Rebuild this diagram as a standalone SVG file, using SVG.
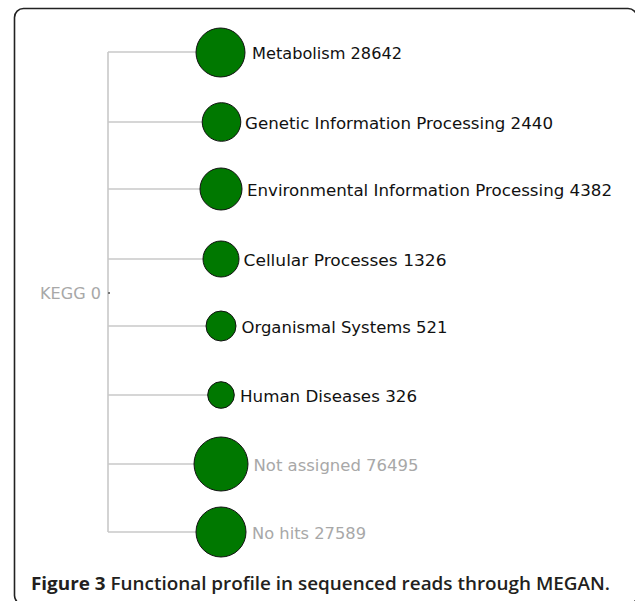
<svg xmlns="http://www.w3.org/2000/svg" width="635" height="601" viewBox="0 0 635 601">
<style>
.edge{stroke:#c8c8c8;stroke-width:1.6;fill:none}
.node circle{fill:#007800;stroke:#111;stroke-width:1}
.lbl{font-family:"DejaVu Sans",Verdana,sans-serif;font-size:15px;fill:#111}
.lbl.g{fill:#a8a8a8}
.cap{font-family:"Open Sans","Liberation Sans",sans-serif;font-size:17.5px;fill:#231f20}
</style>
<rect x="14.5" y="8.5" width="622.5" height="596" rx="9" fill="#fff" stroke="#222" stroke-width="1.6"/>
<g id="connectors">
<line class="edge" x1="108" y1="52" x2="108" y2="532"/>
<line class="edge" x1="108" y1="52" x2="197" y2="52"/>
<line class="edge" x1="108" y1="122" x2="202" y2="122"/>
<line class="edge" x1="108" y1="189" x2="200" y2="189"/>
<line class="edge" x1="108" y1="259" x2="203" y2="259"/>
<line class="edge" x1="108" y1="326" x2="206" y2="326"/>
<line class="edge" x1="108" y1="395" x2="208" y2="395"/>
<line class="edge" x1="108" y1="464" x2="194" y2="464"/>
<line class="edge" x1="108" y1="532" x2="196" y2="532"/>
</g>
<g id="root">
<text class="lbl g" x="101" y="299" text-anchor="end" textLength="61" lengthAdjust="spacingAndGlyphs">KEGG 0</text>
<rect x="108" y="292" width="2" height="2" fill="#777"/>
</g>
<g id="metabolism" class="node"><circle cx="220.5" cy="52.5" r="24.5"/><text class="lbl" x="252" y="59" textLength="150" lengthAdjust="spacingAndGlyphs">Metabolism 28642</text></g>
<g id="genetic" class="node"><circle cx="221.5" cy="122" r="19.3"/><text class="lbl" x="245" y="129" textLength="308" lengthAdjust="spacingAndGlyphs">Genetic Information Processing 2440</text></g>
<g id="environmental" class="node"><circle cx="221" cy="189" r="21"/><text class="lbl" x="247" y="196" textLength="365" lengthAdjust="spacingAndGlyphs">Environmental Information Processing 4382</text></g>
<g id="cellular" class="node"><circle cx="221" cy="259" r="18"/><text class="lbl" x="243.5" y="265.5" textLength="203" lengthAdjust="spacingAndGlyphs">Cellular Processes 1326</text></g>
<g id="organismal" class="node"><circle cx="221" cy="326" r="15"/><text class="lbl" x="241.5" y="332.5" textLength="206" lengthAdjust="spacingAndGlyphs">Organismal Systems 521</text></g>
<g id="human" class="node"><circle cx="221" cy="395" r="13.3"/><text class="lbl" x="240" y="401.5" textLength="177" lengthAdjust="spacingAndGlyphs">Human Diseases 326</text></g>
<g id="notassigned" class="node"><circle cx="221" cy="464" r="27"/><text class="lbl g" x="253.5" y="471" textLength="165" lengthAdjust="spacingAndGlyphs">Not assigned 76495</text></g>
<g id="nohits" class="node"><circle cx="221" cy="532" r="25"/><text class="lbl g" x="252" y="539" textLength="114" lengthAdjust="spacingAndGlyphs">No hits 27589</text></g>
<text class="cap" x="31" y="590" textLength="579" lengthAdjust="spacingAndGlyphs"><tspan font-weight="700">Figure 3</tspan><tspan font-weight="600"> Functional profile in sequenced reads through MEGAN.</tspan></text>
</svg>
